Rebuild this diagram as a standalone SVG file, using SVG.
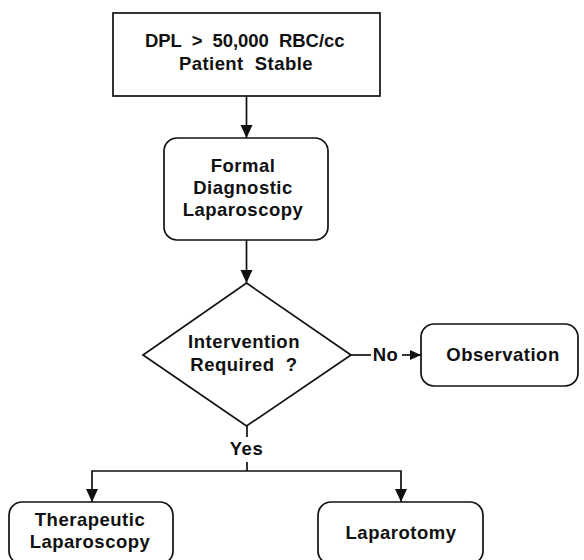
<svg xmlns="http://www.w3.org/2000/svg" width="584" height="560" viewBox="0 0 584 560">
  <style>
    .box { fill: #ffffff; stroke: #111; stroke-width: 1.7; }
    .line { fill: none; stroke: #111; stroke-width: 1.7; }
    .lbl { font-family: "Liberation Sans", Arial, Helvetica, sans-serif; font-weight: bold; font-size: 18.5px; letter-spacing: 0.5px; fill: #111; text-anchor: middle; }
  </style>
  <defs>
    <marker id="arrow" markerUnits="userSpaceOnUse" markerWidth="14" markerHeight="14" viewBox="0 0 14 14" refX="13" refY="7" orient="auto">
      <path d="M0,1 L13,7 L0,13 Z" fill="#111"/>
    </marker>
    <marker id="arrowSmall" markerUnits="userSpaceOnUse" markerWidth="12" markerHeight="12" viewBox="0 0 12 12" refX="11" refY="6" orient="auto">
      <path d="M0,1 L11,6 L0,11 Z" fill="#111"/>
    </marker>
  </defs>

  <rect width="584" height="560" fill="#ffffff"/>

  <g id="connectors">
    <line class="line" x1="246.5" y1="96" x2="246.5" y2="138" marker-end="url(#arrow)"/>
    <line class="line" x1="246.5" y1="240" x2="246.5" y2="283" marker-end="url(#arrow)"/>
    <line class="line" x1="351" y1="355" x2="371" y2="355"/>
    <line class="line" x1="402" y1="355" x2="421" y2="355" marker-end="url(#arrowSmall)"/>
    <line class="line" x1="247" y1="426" x2="247" y2="437"/>
    <polyline class="line" points="247,462 247,471"/>
    <polyline class="line" points="247,471 92,471 92,502" marker-end="url(#arrow)"/>
    <polyline class="line" points="247,471 401,471 401,502" marker-end="url(#arrow)"/>
    <text class="lbl" x="385.5" y="361">No</text>
    <text class="lbl" x="246.5" y="455">Yes</text>
  </g>

  <g id="dpl">
    <rect class="box" x="113" y="13" width="267" height="83"/>
    <text class="lbl" xml:space="preserve" x="245" y="47" textLength="200" lengthAdjust="spacing">DPL  &gt;  50,000  RBC/cc</text>
    <text class="lbl" xml:space="preserve" x="246" y="70" textLength="134" lengthAdjust="spacing">Patient  Stable</text>
  </g>

  <g id="formal">
    <rect class="box" x="164" y="138" width="164" height="102" rx="13" ry="13"/>
    <text class="lbl" x="243" y="172">Formal</text>
    <text class="lbl" x="243" y="194">Diagnostic</text>
    <text class="lbl" x="243" y="216">Laparoscopy</text>
  </g>

  <g id="intervention">
    <polygon class="box" points="246.5,283 351,355 246.5,426 143,355"/>
    <text class="lbl" x="244" y="348">Intervention</text>
    <text class="lbl" xml:space="preserve" x="244" y="371">Required  ?</text>
  </g>

  <g id="observation">
    <rect class="box" x="421" y="324" width="157" height="62" rx="13" ry="13"/>
    <text class="lbl" x="503" y="361">Observation</text>
  </g>

  <g id="therapeutic">
    <rect class="box" x="9" y="502" width="164" height="62" rx="13" ry="13"/>
    <text class="lbl" x="90" y="526">Therapeutic</text>
    <text class="lbl" x="90" y="548">Laparoscopy</text>
  </g>

  <g id="laparotomy">
    <rect class="box" x="318" y="502" width="165" height="62" rx="13" ry="13"/>
    <text class="lbl" x="401" y="539">Laparotomy</text>
  </g>
</svg>
